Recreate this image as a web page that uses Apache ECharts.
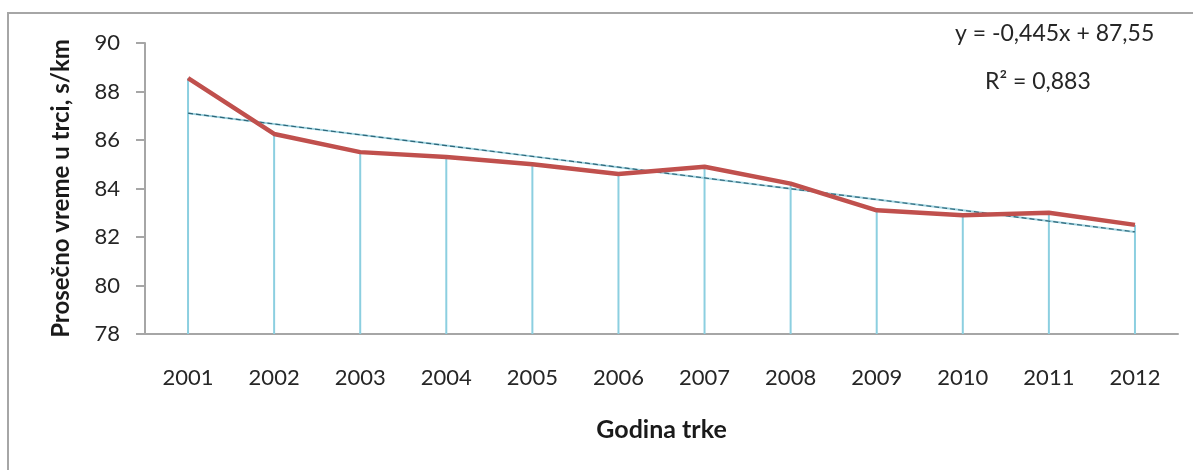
<!DOCTYPE html>
<html>
<head>
<meta charset="utf-8">
<script src="https://cdn.jsdelivr.net/npm/echarts@6/dist/echarts.min.js"></script>
<style>
  html, body { margin: 0; padding: 0; background: #fff; }
  #chart { width: 1193px; height: 470px; }
</style>
</head>
<body>
<div id="chart"></div>
<script>
// godine i prosecno vreme (s/km)
const years = ['2001', '2002', '2003', '2004', '2005', '2006', '2007', '2008', '2009', '2010', '2011', '2012'];
const avgTime = [88.55, 86.25, 85.5, 85.3, 85.0, 84.6, 84.9, 84.2, 83.1, 82.9, 83.0, 82.5];
const yTicks = [78, 80, 82, 84, 86, 88, 90];
// linearni trend iz Excel-a
const trendSlope = -0.445;
const trendIntercept = 87.55;
const trendText = ['y = -0,445x + 87,55', 'R² = 0,883'];

const trend = years.map((y, i) => +(trendSlope * (i + 1) + trendIntercept).toFixed(3));

const font = 'Lato, "Open Sans", sans-serif';
const myChart = echarts.init(document.getElementById('chart'));

const option = {
  animation: false,
  textStyle: { fontFamily: font },
  grid: { left: 145, right: 15, top: 43, bottom: 136 },
  graphic: [
    {
      type: 'rect',
      shape: { x: 8, y: 13, width: 1200, height: 470 },
      style: { fill: 'none', stroke: '#a6a6a6', lineWidth: 2 }
    },
    {
      type: 'text', left: 955, top: 22,
      style: { text: trendText[0], fontSize: 23, fill: '#262626', fontFamily: font }
    },
    {
      type: 'text', left: 985, top: 70,
      style: { text: trendText[1], fontSize: 23, fill: '#262626', fontFamily: font }
    }
  ],
  xAxis: {
    type: 'category',
    data: years,
    boundaryGap: true,
    name: 'Godina trke',
    nameLocation: 'middle',
    nameGap: 83,
    nameTextStyle: { fontSize: 25, fontWeight: 'bold', color: '#1a1a1a' },
    axisLine: { lineStyle: { color: '#a6a6a6', width: 2 } },
    axisTick: { show: false },
    axisLabel: { fontSize: 22, color: '#262626', margin: 33 }
  },
  yAxis: {
    type: 'value',
    min: yTicks[0],
    max: yTicks[yTicks.length - 1],
    interval: 2,
    name: 'Prosečno vreme u trci, s/km',
    nameLocation: 'middle',
    nameGap: 72,
    nameTextStyle: { fontSize: 24, fontWeight: 'bold', color: '#1a1a1a' },
    axisLine: { show: true, lineStyle: { color: '#a6a6a6', width: 2 } },
    axisTick: { show: true, length: 9, lineStyle: { color: '#a6a6a6', width: 2 } },
    splitLine: { show: false },
    axisLabel: { fontSize: 22, color: '#262626', margin: 25 }
  },
  series: [
    {
      // drop lines
      type: 'bar',
      data: avgTime,
      barWidth: 2,
      barGap: '-100%',
      itemStyle: { color: '#8ccfe0' },
      z: 1
    },
    {
      type: 'line',
      data: trend,
      symbol: 'none',
      lineStyle: { color: '#9fd3e0', width: 2 },
      z: 2
    },
    {
      type: 'line',
      data: trend,
      symbol: 'none',
      lineStyle: { color: '#2e6678', width: 1.2, type: [5, 3] },
      z: 3
    },
    {
      type: 'line',
      data: avgTime,
      symbol: 'none',
      lineStyle: { color: '#c0504d', width: 4.5 },
      z: 4
    }
  ]
};

myChart.setOption(option);
window.addEventListener('resize', () => {
  myChart.resize();
});
</script>
</body>
</html>
